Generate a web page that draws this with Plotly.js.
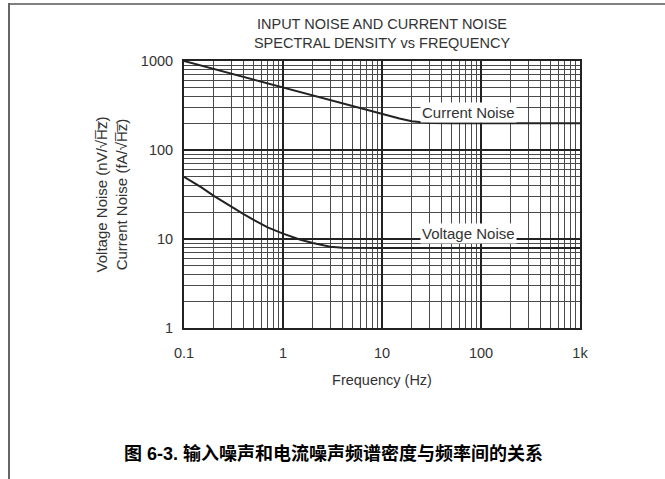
<!DOCTYPE html>
<html>
<head>
<meta charset="utf-8">
<script src="https://cdn.plot.ly/plotly-3.0.1.min.js"></script>
<style>html,body{margin:0;padding:0;background:#fff;}#chart{width:665px;height:479px;}</style>
</head>
<body>
<div id="chart"></div>
<script>
// Current noise (fA/√Hz) vs frequency (Hz)
const currentFreq = [0.1, 0.2, 0.5, 1, 2, 5, 10, 15, 20, 25, 30, 50, 100, 1000];
const currentNoise = [1000, 812, 617, 500, 406, 309, 252, 226, 210, 203, 201, 200, 200, 200];
// Voltage noise (nV/√Hz) vs frequency (Hz)
const voltageFreq = [0.1, 0.15, 0.2, 0.3, 0.4, 0.5, 0.7, 1, 1.5, 2, 3, 4, 5, 10, 100, 1000];
const voltageNoise = [50, 38, 30.5, 23, 19, 16.5, 13.5, 11.5, 9.8, 9.0, 8.2, 7.95, 7.9, 7.9, 7.9, 7.9];
// Tick labels
const xTickVals = [0.1, 1, 10, 100, 1000];
const xTickText = ['0.1', '1', '10', '100', '1k'];
const yTickVals = [1, 10, 100, 1000];
const yTickText = ['1', '10', '100', '1000'];

const font = 'Liberation Sans, Arial, sans-serif';
const lineStyle = {color: '#222', width: 2};
const fs = 14.5;

const traces = [
  {x: currentFreq, y: currentNoise, mode: 'lines', line: lineStyle, name: 'Current Noise', hoverinfo: 'skip'},
  {x: voltageFreq, y: voltageNoise, mode: 'lines', line: lineStyle, name: 'Voltage Noise', hoverinfo: 'skip'}
];

const axisCommon = {
  type: 'log',
  showline: true, mirror: true, linecolor: '#222', linewidth: 2,
  showgrid: true, gridcolor: '#222', gridwidth: 2,
  ticks: '', zeroline: false,
  tickfont: {family: font, size: fs, color: '#333'},
  minor: {dtick: 'D1', showgrid: true, gridcolor: '#4a4a4a', gridwidth: 1, ticks: ''}
};

const layout = {
  width: 665, height: 479,
  margin: {l: 184, r: 85, t: 61, b: 151},
  paper_bgcolor: '#fff', plot_bgcolor: '#fff',
  showlegend: false,
  font: {family: font, color: '#333'},
  title: {
    text: 'INPUT NOISE AND CURRENT NOISE<br>SPECTRAL DENSITY vs FREQUENCY',
    font: {family: font, size: fs, color: '#333'},
    x: 382 / 665, xanchor: 'center', y: 1 - 29 / 479, yanchor: 'middle'
  },
  xaxis: Object.assign({}, axisCommon, {
    range: [-1, 3], tickmode: 'array', tickvals: xTickVals, ticktext: xTickText,
    ticklabelstandoff: 11,
    title: {text: 'Frequency (Hz)', font: {family: font, size: fs, color: '#333'}, standoff: 14}
  }),
  yaxis: Object.assign({}, axisCommon, {
    range: [0, 3], tickmode: 'array', tickvals: yTickVals, ticktext: yTickText,
    ticklabelstandoff: 6,
    title: {text: 'Voltage Noise (nV/√H\u0305z\u0305)<br>Current Noise (fA/√H\u0305z\u0305)', font: {family: font, size: 15, color: '#333'}, standoff: 10}
  }),
  annotations: [
    {x: Math.log10(75), y: Math.log10(265), xref: 'x', yref: 'y', text: 'Current Noise', showarrow: false,
     xanchor: 'center', yanchor: 'middle',
     bgcolor: '#fff', font: {family: font, size: 15, color: '#333'}, borderpad: 1},
    {x: Math.log10(75), y: Math.log10(11.4), xref: 'x', yref: 'y', text: 'Voltage Noise', showarrow: false,
     xanchor: 'center', yanchor: 'middle',
     bgcolor: '#fff', font: {family: font, size: 15, color: '#333'}, borderpad: 1},
    {x: (333 - 184) / 396, y: (328 - 453) / 267, xref: 'paper', yref: 'paper',
     text: '<b>图 6-3. 输入噪声和电流噪声频谱密度与频率间的关系</b>',
     xanchor: 'center', yanchor: 'middle',
     showarrow: false, font: {family: 'Liberation Sans, Noto Sans CJK SC, sans-serif', size: 18, color: '#000'}}
  ],
  shapes: [
    {type: 'line', xref: 'paper', yref: 'paper', x0: (9 - 184) / 396, x1: (665 - 184) / 396, y0: (328 - 4) / 267, y1: (328 - 4) / 267,
     line: {color: '#808080', width: 2}},
    {type: 'line', xref: 'paper', yref: 'paper', x0: (9 - 184) / 396, x1: (9 - 184) / 396, y0: (328 - 3) / 267, y1: (328 - 479) / 267,
     line: {color: '#666', width: 2}}
  ]
};

Plotly.newPlot('chart', traces, layout, {displayModeBar: false, staticPlot: true});
</script>
</body>
</html>
